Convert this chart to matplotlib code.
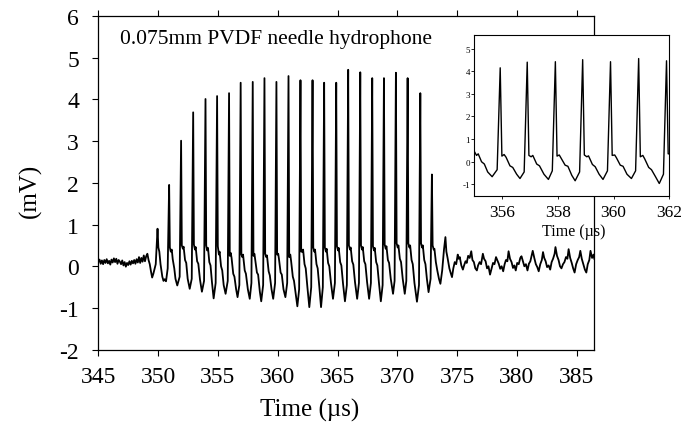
import matplotlib
matplotlib.use("Agg")
import matplotlib.pyplot as plt

# ---------------- data ----------------
# pre-burst noise, 345 - 349.9 us
pre_t = [345.0, 345.1, 345.2, 345.3, 345.4, 345.5, 345.6, 345.7, 345.8, 345.9,
         346.0, 346.1, 346.2, 346.3, 346.4, 346.5, 346.6, 346.7, 346.8, 346.9,
         347.0, 347.1, 347.2, 347.3, 347.4, 347.5, 347.6, 347.7, 347.8, 347.9,
         348.0, 348.1, 348.2, 348.3, 348.4, 348.5, 348.6, 348.7, 348.8, 348.9,
         349.0, 349.1, 349.2, 349.3, 349.4, 349.5, 349.6, 349.8]
pre_v = [0.10, 0.16, 0.06, 0.14, 0.05, 0.15, 0.08, 0.17, 0.07, 0.13,
         0.04, 0.16, 0.09, 0.19, 0.10, 0.18, 0.06, 0.15, 0.11, 0.05,
         0.14, 0.02, 0.10, -0.01, 0.08, 0.03, 0.12, 0.04, 0.13, 0.07,
         0.15, 0.06, 0.17, 0.09, 0.22, 0.08, 0.20, 0.11, 0.26, 0.12,
         0.24, 0.30, 0.15, 0.05, -0.12, -0.27, -0.18, 0.05]

# pulse burst, 349.95 - 373.6 us
burst_t = [349.95, 350.02, 350.10, 350.20, 350.35, 350.45, 350.55, 350.66,
           350.80, 350.92, 350.98, 351.06, 351.14, 351.22, 351.35, 351.45, 351.60,
           351.80, 351.92, 351.98, 352.07, 352.13, 352.25, 352.35, 352.47, 352.64,
           352.81, 352.93, 352.99, 353.08, 353.14, 353.26, 353.36, 353.50, 353.66,
           353.84, 353.96, 354.02, 354.10, 354.17, 354.28, 354.38, 354.50, 354.64,
           354.81, 354.93, 354.99, 355.08, 355.14, 355.26, 355.36, 355.48, 355.64,
           355.82, 355.93, 355.99, 356.07, 356.14, 356.28, 356.38, 356.52, 356.64,
           356.79, 356.90, 356.96, 357.04, 357.10, 357.24, 357.34, 357.50, 357.66,
           357.80, 357.91, 357.97, 358.05, 358.12, 358.26, 358.36, 358.50, 358.62,
           358.78, 358.89, 358.95, 359.04, 359.10, 359.24, 359.34, 359.48, 359.62,
           359.78, 359.89, 359.95, 360.04, 360.10, 360.24, 360.34, 360.48, 360.64,
           360.79, 360.90, 360.96, 361.05, 361.12, 361.26, 361.36, 361.50, 361.64,
           361.79, 361.90, 361.96, 362.05, 362.12, 362.24, 362.34, 362.48, 362.64,
           362.80, 362.91, 362.97, 363.06, 363.12, 363.24, 363.34, 363.48, 363.62,
           363.77, 363.88, 363.94, 364.03, 364.09, 364.21, 364.31, 364.45, 364.62,
           364.78, 364.89, 364.95, 365.04, 365.10, 365.22, 365.32, 365.46, 365.62,
           365.78, 365.89, 365.95, 366.04, 366.10, 366.22, 366.32, 366.46, 366.64,
           366.79, 366.90, 366.96, 367.05, 367.11, 367.23, 367.33, 367.47, 367.64,
           367.79, 367.90, 367.96, 368.05, 368.11, 368.23, 368.33, 368.47, 368.62,
           368.77, 368.88, 368.94, 369.03, 369.09, 369.21, 369.31, 369.45, 369.64,
           369.77, 369.88, 369.94, 370.03, 370.09, 370.21, 370.31, 370.45, 370.62,
           370.75, 370.86, 370.92, 371.01, 371.07, 371.19, 371.29, 371.43, 371.64,
           371.81, 371.92, 371.98, 372.07, 372.13, 372.25, 372.35, 372.47, 372.61,
           372.78, 372.89, 372.95, 373.04, 373.10, 373.22, 373.34, 373.48, 373.60]
burst_v = [0.90, 0.45, 0.35, 0.05, -0.25, -0.35, -0.31, -0.36,
           -0.05, 1.95, 0.45, 0.35, 0.40, 0.17, -0.05, -0.30, -0.46,
           -0.25, 3.01, 0.50, 0.42, 0.47, 0.15, 0.08, -0.30, -0.54,
           -0.30, 3.69, 0.52, 0.40, 0.46, 0.12, 0.06, -0.32, -0.61,
           -0.35, 4.01, 0.50, 0.38, 0.44, 0.10, 0.02, -0.38, -0.77,
           -0.40, 4.08, 0.48, 0.28, 0.35, 0.00, -0.10, -0.45, -0.66,
           -0.35, 4.15, 0.25, 0.32, 0.20, -0.18, -0.25, -0.55, -0.74,
           -0.45, 4.40, 0.28, 0.22, 0.28, -0.10, -0.18, -0.55, -0.78,
           -0.40, 4.42, 0.25, 0.30, 0.15, -0.15, -0.20, -0.60, -0.84,
           -0.45, 4.51, 0.30, 0.22, 0.26, -0.12, -0.22, -0.55, -0.78,
           -0.40, 4.42, 0.28, 0.30, 0.18, -0.15, -0.20, -0.55, -0.74,
           -0.40, 4.56, 0.22, 0.28, 0.12, -0.25, -0.35, -0.65, -0.96,
           -0.55, 4.46, 0.35, 0.35, 0.40, 0.05, -0.05, -0.50, -0.98,
           -0.50, 4.46, 0.45, 0.35, 0.40, 0.05, -0.05, -0.50, -0.98,
           -0.50, 4.40, 0.45, 0.35, 0.42, 0.08, 0.00, -0.40, -0.78,
           -0.40, 4.40, 0.48, 0.38, 0.44, 0.10, 0.02, -0.42, -0.84,
           -0.45, 4.71, 0.50, 0.40, 0.45, 0.12, 0.04, -0.38, -0.78,
           -0.40, 4.65, 0.50, 0.40, 0.46, 0.12, 0.05, -0.38, -0.78,
           -0.40, 4.51, 0.48, 0.38, 0.44, 0.10, 0.02, -0.42, -0.84,
           -0.45, 4.51, 0.52, 0.42, 0.48, 0.15, 0.08, -0.30, -0.66,
           -0.35, 4.64, 0.55, 0.45, 0.50, 0.18, 0.10, -0.30, -0.66,
           -0.35, 4.51, 0.55, 0.45, 0.50, 0.15, 0.05, -0.40, -0.85,
           -0.45, 4.15, 0.55, 0.45, 0.50, 0.15, 0.05, -0.30, -0.62,
           -0.30, 2.20, 0.50, 0.40, 0.42, 0.10, -0.10, -0.30, -0.42]

# post-burst ringing, 373.75 - 386.47 us
post_t = [373.75, 373.90, 374.02, 374.10, 374.20, 374.35, 374.45, 374.57,
          374.68, 374.80, 374.92, 375.05, 375.12, 375.22, 375.35, 375.48, 375.58,
          375.70, 375.80, 375.92, 376.05, 376.18, 376.28, 376.40, 376.52, 376.65,
          376.75, 376.88, 377.00, 377.15, 377.25, 377.38, 377.50, 377.62, 377.75,
          377.88, 378.00, 378.12, 378.25, 378.35, 378.48, 378.60, 378.72, 378.85,
          378.97, 379.08, 379.20, 379.30, 379.42, 379.55, 379.67, 379.78, 379.90,
          380.02, 380.15, 380.28, 380.38, 380.50, 380.62, 380.75, 380.88, 381.00,
          381.12, 381.22, 381.32, 381.45, 381.58, 381.70, 381.82, 381.95, 382.08,
          382.18, 382.28, 382.40, 382.52, 382.65, 382.78, 382.90, 383.02, 383.15,
          383.22, 383.35, 383.48, 383.60, 383.72, 383.85, 383.97, 384.10, 384.22,
          384.32, 384.45, 384.58, 384.70, 384.82, 384.95, 385.08, 385.20, 385.30,
          385.42, 385.55, 385.68, 385.80, 385.92, 386.05, 386.15, 386.28, 386.40,
          386.47]
post_v = [-0.10, 0.40, 0.70, 0.35, 0.20, -0.05, -0.15, -0.26,
          -0.05, 0.10, 0.05, 0.28, 0.18, 0.22, 0.02, -0.08, 0.02,
          0.12, 0.08, 0.25, 0.20, 0.36, 0.15, 0.10, -0.05, -0.10,
          0.02, 0.10, 0.05, 0.30, 0.18, 0.12, -0.05, 0.00, -0.20,
          -0.05, 0.08, 0.05, 0.22, 0.15, 0.06, -0.06, 0.00, -0.12,
          0.05, 0.15, 0.12, 0.36, 0.18, 0.10, -0.04, 0.02, -0.10,
          0.08, 0.05, 0.20, 0.24, 0.12, 0.00, 0.05, -0.10, 0.06,
          0.12, 0.24, 0.37, 0.20, 0.05, -0.02, -0.12, 0.05, 0.15,
          0.34, 0.20, 0.12, -0.02, 0.02, -0.08, 0.10, 0.18, 0.30,
          0.46, 0.25, 0.15, 0.00, -0.05, 0.05, 0.10, 0.22, 0.18,
          0.41, 0.20, 0.08, -0.05, -0.15, 0.05, 0.15, 0.22, 0.37,
          0.18, 0.05, -0.08, -0.15, 0.05, 0.15, 0.37, 0.20, 0.28,
          0.18]

main_xticks = [345, 350, 355, 360, 365, 370, 375, 380, 385]
main_yticks = [-2, -1, 0, 1, 2, 3, 4, 5, 6]
inset_xticks = [356, 358, 360, 362]
inset_yticks = [-1, 0, 1, 2, 3, 4, 5]

title_text = "0.075mm PVDF needle hydrophone"
xlabel_text = "Time (\u00b5s)"
ylabel_text = "(mV)"

# ---------------- plotting ----------------
plt.rcParams['font.family'] = ['Liberation Serif', 'DejaVu Serif']
plt.rcParams['axes.unicode_minus'] = False

time_us = pre_t + burst_t + post_t
signal_mV = pre_v + burst_v + post_v

fig = plt.figure(figsize=(6.91, 4.27), dpi=100)
fig.patch.set_facecolor('white')

ax = fig.add_axes([0.1423, 0.1787, 0.7178, 0.7815])
ax.plot(time_us, signal_mV, color='black', lw=1.3)
ax.set_xlim(345, 386.47)
ax.set_ylim(-2, 6)
ax.set_xticks(main_xticks)
ax.set_yticks(main_yticks)
ax.tick_params(axis='both', direction='out', length=4, width=0.8,
               labelsize=17, colors='black')
ax.tick_params(axis='x', top=True, pad=8)
ax.tick_params(axis='y', pad=10)
for s in ax.spines.values():
    s.set_linewidth(0.9)
    s.set_color('black')
ax.set_xlabel(xlabel_text, fontsize=18, va='center')
ax.xaxis.set_label_coords(0.425, -0.178)
ax.set_ylabel(ylabel_text, fontsize=18, va='center')
ax.yaxis.set_label_coords(-0.138, 0.48)
ax.text(0.0437, 0.919, title_text, transform=ax.transAxes,
        fontsize=15.5, ha='left', va='baseline')

ax2 = fig.add_axes([0.6864, 0.5393, 0.2822, 0.3764])
ax2.set_facecolor('white')
ax2.plot(time_us, signal_mV, color='black', lw=1.0)
ax2.set_xlim(355, 362)
ax2.set_ylim(-1.5, 5.6)
ax2.set_xticks(inset_xticks)
ax2.set_yticks(inset_yticks)
ax2.tick_params(axis='both', direction='out', length=2, width=0.6)
ax2.tick_params(axis='x', labelsize=12.5, pad=4)
ax2.tick_params(axis='y', labelsize=6.5, pad=1)
for s in ax2.spines.values():
    s.set_linewidth(0.8)
    s.set_color('black')
ax2.set_xlabel(xlabel_text, fontsize=11.5, va='center')
ax2.xaxis.set_label_coords(0.511, -0.22)

fig.savefig("out.png", dpi=100, facecolor='white')
